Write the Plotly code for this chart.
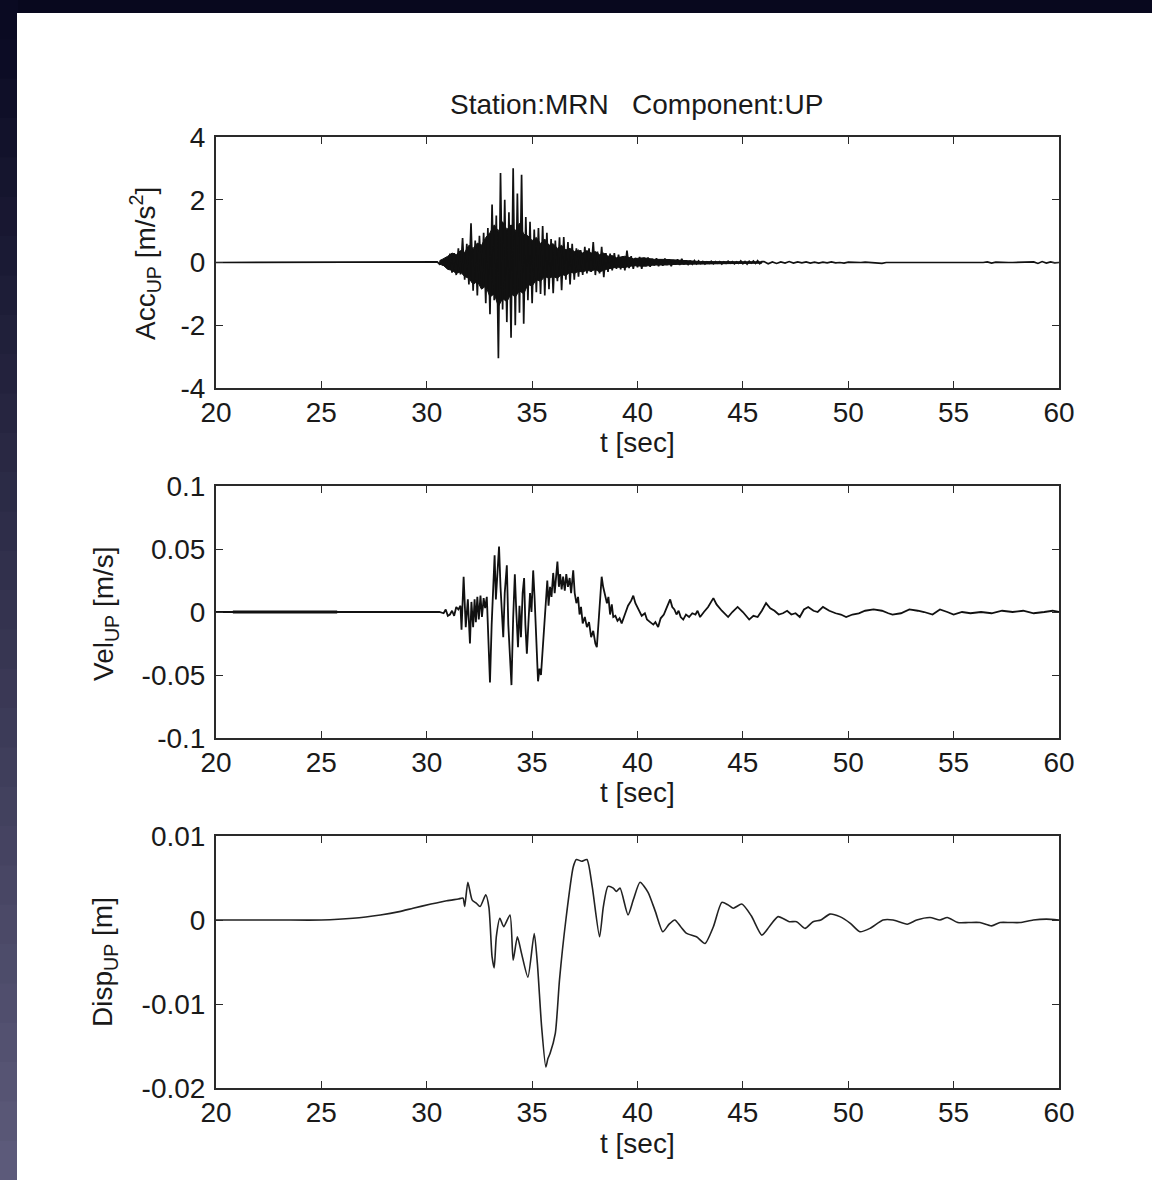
import numpy as np
import plotly.graph_objects as go
from plotly.subplots import make_subplots

# ---------------- DATA ----------------
TITLE = "Station:MRN   Component:UP"
x_ticks = [20, 25, 30, 35, 40, 45, 50, 55, 60]
acc_ticks = [-4, -2, 0, 2, 4]
vel_ticks = [-0.1, -0.05, 0, 0.05, 0.1]
vel_tick_labels = ["-0.1", "-0.05", "0", "0.05", "0.1"]
disp_ticks = [-0.02, -0.01, 0, 0.01]
disp_tick_labels = ["-0.02", "-0.01", "0", "0.01"]

# Acceleration: quiet before onset
acc_pre_t = [20.0, 30.4]
acc_pre = [0.0, 0.0]
# Acceleration, strong part, sampled every 0.1 s starting at 30.5 s
acc_main_t0 = 30.5
acc_main_dt = 0.1
acc_main = [
    0.02, -0.05, 0.08, -0.10, 0.12,
    -0.20, 0.28, -0.32, 0.30, -0.40, 0.45, -0.38, 0.78, -0.55, 0.60,
    -0.70, 1.25, -0.90, 0.70, -1.05, 0.85, -0.80, 0.95, -1.30, 1.10,
    -1.65, 1.85, -1.20, 1.50, -3.05, 2.85, -1.50, 2.00, -1.90, 1.60,
    -2.40, 3.00, -2.00, 2.20, -1.60, 2.80, -1.95, 1.45, -1.20, 1.30,
    -1.30, 1.05, -0.95, 1.10, -1.00, 1.16, -1.05, 0.95, -0.85, 0.75,
    -0.98, 0.70, -0.60, 0.80, -0.88, 0.81, -0.55, 0.65, -0.70, 0.60,
    -0.55, 0.45, -0.45, 0.40, -0.40, 0.50, -0.35, 0.45, -0.30, 0.65,
    -0.40, 0.35, -0.35, 0.50, -0.47, 0.30, -0.30, 0.28, -0.25, 0.30,
    -0.20, 0.25, -0.22, 0.20, -0.25, 0.38, -0.18, 0.20, -0.20, 0.15,
    -0.15, 0.18, -0.20, 0.15, -0.12, 0.16, -0.14, 0.12, -0.10, 0.14,
    -0.12, 0.10, -0.10, 0.13, -0.08, 0.10, -0.12, 0.08, -0.07, 0.10,
    -0.08, 0.12, -0.06, 0.07, -0.08, 0.06, -0.05, 0.06, -0.04, 0.05,
    -0.03, 0.03, -0.05, 0.02, -0.03, 0.04, -0.04, 0.03, -0.02, 0.03,
    -0.05, 0.02, -0.03, 0.04, -0.02, 0.03, -0.04, 0.02, -0.03, 0.05,
    -0.04, 0.03, -0.05, 0.04, -0.02, 0.05, -0.03, 0.06, -0.04, 0.03,
]
# Acceleration coda, sampled every 0.2 s starting at 46.0 s
acc_tail_t0 = 46.0
acc_tail_dt = 0.2
acc_tail = [
    0.03, -0.04, 0.02, -0.03, 0.02, -0.02, 0.03, -0.02, 0.02, -0.01,
    0.02, -0.02, 0.01, -0.02, 0.01, -0.01, 0.02, -0.01, 0.00, -0.02,
    0.01, 0.00, -0.01, 0.00, 0.01, 0.00, -0.01, 0.00, -0.03, 0.00,
    0.00, 0.01, 0.00, -0.01, 0.01, 0.00, -0.01, 0.01, -0.01, 0.00,
    -0.01, 0.00, 0.00, -0.01, 0.00, 0.00, 0.00, 0.00, 0.00, 0.00,
    0.00, 0.00, 0.00, 0.02, -0.02, 0.01, 0.00, 0.00, 0.00, 0.00,
    0.00, 0.00, 0.00, 0.00, 0.02, -0.03, 0.03, -0.02, 0.02, -0.01,
    0.00,
]
# Dense (solid black) core of the acceleration trace: upper / lower envelope
acc_core_t = [30.6, 30.8, 31.0, 31.2, 31.4, 31.6, 31.8, 32.0, 32.2, 32.4,
              32.6, 32.8, 33.0, 33.2, 33.4, 33.6, 33.8, 34.0, 34.2, 34.4,
              34.6, 34.8, 35.0, 35.2, 35.4, 35.6, 35.8, 36.0, 36.2, 36.4,
              36.6, 36.8, 37.0, 37.2, 37.4, 37.6, 37.8, 38.0, 38.2, 38.4,
              38.6, 38.8, 39.0, 39.4, 39.8, 40.3, 40.8, 41.3, 41.8, 42.3,
              43.0, 44.0, 45.0, 45.9]
acc_core_hi = [0.05, 0.12, 0.20, 0.30, 0.25, 0.38, 0.32, 0.55, 0.45, 0.62,
               0.55, 0.80, 0.95, 1.20, 1.00, 1.30, 1.05, 1.20, 1.00, 1.25,
               0.90, 0.85, 0.70, 0.80, 0.60, 0.75, 0.55, 0.60, 0.45, 0.55,
               0.40, 0.45, 0.35, 0.40, 0.30, 0.38, 0.30, 0.35, 0.25, 0.30,
               0.20, 0.22, 0.15, 0.20, 0.12, 0.15, 0.10, 0.10, 0.07, 0.06,
               0.03, 0.03, 0.03, 0.02]
acc_core_lo = [-0.05, -0.10, -0.22, -0.25, -0.35, -0.30, -0.45, -0.50, -0.70, -0.60,
               -0.85, -0.75, -1.10, -1.00, -1.40, -1.15, -1.25, -1.00, -1.10, -0.90,
               -1.00, -0.70, -0.75, -0.55, -0.60, -0.45, -0.50, -0.45, -0.50, -0.38,
               -0.42, -0.30, -0.35, -0.28, -0.30, -0.25, -0.28, -0.22, -0.30, -0.25,
               -0.20, -0.18, -0.15, -0.16, -0.10, -0.12, -0.08, -0.08, -0.06, -0.05,
               -0.03, -0.03, -0.03, -0.02]

# Velocity (t [s], v [m/s])
vel_t = [
    20.0, 30.6, 30.8, 30.9, 31.0, 31.1, 31.2, 31.3, 31.4, 31.5, 31.6, 31.65,
    31.75, 31.85, 31.95, 32.05, 32.12, 32.2, 32.27, 32.33, 32.4, 32.47, 32.55,
    32.62, 32.7, 32.77, 32.85, 32.92, 33.0, 33.08, 33.15, 33.22, 33.28, 33.35,
    33.43, 33.5, 33.57, 33.63, 33.7, 33.8, 33.87, 33.94, 34.02, 34.1, 34.18,
    34.25, 34.33, 34.4, 34.47, 34.55, 34.62, 34.68, 34.75, 34.82, 34.9, 34.97,
    35.05, 35.12, 35.2, 35.28, 35.35, 35.42, 35.5, 35.57, 35.65, 35.72, 35.78,
    35.85, 35.92, 36.0, 36.07, 36.13, 36.2, 36.27, 36.33, 36.4, 36.47, 36.55,
    36.62, 36.7, 36.78, 36.85, 36.95, 37.02, 37.1, 37.18, 37.25, 37.32, 37.4,
    37.5, 37.6, 37.7, 37.8, 37.9, 38.0, 38.07, 38.15, 38.22, 38.3, 38.37,
    38.45, 38.55, 38.62, 38.7, 38.78, 38.85, 38.95, 39.05, 39.15, 39.25, 39.4,
    39.55, 39.7, 39.8, 39.9, 40.05, 40.2, 40.35, 40.45, 40.6, 40.75, 40.85,
    40.98, 41.1, 41.25, 41.4, 41.55, 41.65, 41.75, 41.85, 41.95, 42.05, 42.17,
    42.3, 42.45, 42.6, 42.75, 42.85, 42.97, 43.15, 43.35, 43.6, 43.75, 44.0,
    44.3, 44.5, 44.75, 45.0, 45.3, 45.5, 45.7, 45.9, 46.1, 46.3, 46.5, 46.7,
    46.9, 47.1, 47.3, 47.5, 47.7, 47.9, 48.1, 48.35, 48.55, 48.8, 49.1, 49.4,
    49.65, 49.9, 50.2, 50.5, 50.8, 51.2, 51.6, 51.9, 52.1, 52.5, 52.9, 53.3,
    53.6, 54.0, 54.35, 54.7, 55.0, 55.4, 55.8, 56.3, 56.8, 57.3, 57.8, 58.3,
    58.8, 59.3, 59.7, 60.0,
]
vel_v = [
    0.0, 0.0, -0.001, 0.002, -0.003, -0.002, 0.001, -0.003, 0.004, 0.002, 0.005, -0.014,
    0.028, -0.012, 0.010, -0.025, 0.008, -0.012, 0.010, -0.008, 0.012, -0.006, 0.013,
    -0.004, 0.011, 0.003, 0.012, -0.020, -0.056, -0.010, 0.020, 0.045, 0.010, 0.030,
    0.052, 0.020, 0.000, -0.020, 0.015, 0.037, -0.010, -0.030, -0.058, -0.005, 0.030,
    0.000, -0.028, 0.005, -0.020, 0.015, 0.027, -0.010, -0.033, -0.010, 0.015, 0.000,
    0.033, 0.010, -0.030, -0.055, -0.045, -0.050, -0.030, -0.010, 0.010, 0.025, 0.005,
    0.020, 0.012, 0.031, 0.015, 0.025, 0.040, 0.020, 0.030, 0.018, 0.028, 0.017,
    0.030, 0.020, 0.027, 0.015, 0.033, 0.015, 0.007, 0.012, -0.002, 0.004, -0.009,
    -0.004, -0.012, -0.008, -0.020, -0.015, -0.025, -0.028, -0.010, 0.010, 0.028, 0.020,
    0.015, 0.007, 0.012, -0.002, 0.006, -0.004, -0.003, -0.007, -0.005, -0.009, -0.002,
    0.005, 0.009, 0.013, 0.007, 0.002, -0.003, -0.001, -0.006, -0.008, -0.010, -0.008,
    -0.012, -0.005, -0.002, 0.004, 0.010, 0.004, 0.002, -0.002, 0.001, -0.004, -0.006,
    -0.002, -0.004, -0.001, -0.002, 0.001, -0.004, 0.000, 0.004, 0.011, 0.006, 0.001,
    -0.004, 0.000, 0.004, 0.000, -0.006, -0.003, -0.004, 0.001, 0.007, 0.003, 0.001, -0.002,
    -0.001, 0.001, -0.002, -0.001, -0.004, 0.002, 0.004, 0.001, 0.000, 0.004, 0.001, -0.001,
    -0.002, -0.004, -0.002, -0.001, 0.001, 0.002, 0.001, -0.001, -0.002, -0.001, 0.002, 0.001,
    0.000, -0.002, 0.002, 0.000, -0.002, 0.000, -0.001, 0.000, -0.001, 0.001, 0.000, 0.001,
    -0.001, 0.000, 0.001, 0.000,
]
# short stretch drawn heavier in the original (pre-event record)
vel_heavy_t = [20.8, 25.75]
vel_heavy_v = [0.0, 0.0]

# Displacement (t [s], d [m])
disp_t = [
    20.0, 23.0, 25.0, 26.5, 27.8, 28.7, 29.35, 30.2, 30.95, 31.5, 31.72, 31.8,
    31.95, 32.15, 32.35, 32.53, 32.8, 32.95, 33.1, 33.2, 33.3, 33.47, 33.65,
    33.95, 34.1, 34.3, 34.5, 34.8, 35.1, 35.25, 35.45, 35.65, 35.75, 35.85,
    36.1, 36.3, 36.6, 36.95, 37.1, 37.35, 37.6, 37.85, 38.2, 38.38, 38.6,
    38.85, 39.0, 39.17, 39.55, 39.8, 40.12, 40.5, 40.85, 41.2, 41.5, 41.77,
    42.05, 42.33, 42.8, 43.2, 43.6, 44.0, 44.3, 44.55, 44.95, 45.4, 45.9,
    46.25, 46.67, 47.2, 47.55, 47.95, 48.33, 48.7, 49.13, 49.6, 50.1, 50.55,
    51.03, 51.65, 52.13, 52.8, 53.25, 53.88, 54.35, 54.7, 55.2, 55.7, 56.25,
    56.8, 57.2, 57.7, 58.15, 58.78, 59.4, 60.0,
]
disp_v = [
    0.0, 0.0, 0.0, 0.0002, 0.0006, 0.0010, 0.0014, 0.0019, 0.0023, 0.0025, 0.0026, 0.0016,
    0.0045, 0.0024, 0.0020, 0.0016, 0.0030, 0.0015, -0.0044, -0.0057, -0.0020, 0.0002, -0.0008,
    0.0006, -0.0048, -0.0020, -0.0040, -0.0068, -0.0016, -0.0052, -0.0127, -0.0175, -0.0165, -0.0159,
    -0.0135, -0.0071, 0.0000, 0.0063, 0.0072, 0.0070, 0.0072, 0.0040, -0.0020, 0.0016, 0.0040,
    0.0038, 0.0034, 0.0038, 0.0006, 0.0024, 0.0045, 0.0033, 0.0010, -0.0014, -0.0005, 0.0000,
    -0.0008, -0.0016, -0.0020, -0.0028, -0.0008, 0.0021, 0.0018, 0.0014, 0.0019, 0.0005, -0.0018,
    -0.0008, 0.0004, -0.0002, -0.0002, -0.0010, -0.0002, 0.0000, 0.0007, 0.0004, -0.0004, -0.0014,
    -0.0010, 0.0000, 0.0000, -0.0005, 0.0000, 0.0003, 0.0000, 0.0003, -0.0003, -0.0003, -0.0003,
    -0.0007, -0.0003, -0.0003, -0.0003, 0.0000, 0.0001, 0.0000,
]

assert len(acc_core_t) == len(acc_core_hi) == len(acc_core_lo)
assert len(vel_t) == len(vel_v) and len(disp_t) == len(disp_v)

# ---------------- FIGURE ----------------
acc_t = (acc_pre_t
         + [round(acc_main_t0 + i * acc_main_dt, 2) for i in range(len(acc_main))]
         + [round(acc_tail_t0 + i * acc_tail_dt, 2) for i in range(len(acc_tail))])
acc_v = acc_pre + acc_main + acc_tail

W, H = 1152, 1180
L, R, T, B = 216, 1059, 137, 1088          # plot-area pixel box
panels_px = [(137, 388), (486, 738), (836, 1088)]


def px2x(px):
    return (px - L) / (R - L)


def py2y(py):
    return (B - py) / (B - T)


fig = make_subplots(rows=3, cols=1, shared_xaxes=False)
INK = "#111111"
fig.add_trace(go.Scatter(x=acc_core_t + acc_core_t[::-1], y=acc_core_hi + acc_core_lo[::-1],
                         mode="lines", fill="toself", fillcolor=INK,
                         line=dict(color=INK, width=1)), row=1, col=1)
fig.add_trace(go.Scatter(x=acc_t, y=acc_v, mode="lines", line=dict(color=INK, width=1.7)),
              row=1, col=1)
fig.add_trace(go.Scatter(x=vel_t, y=vel_v, mode="lines", line=dict(color=INK, width=1.8)),
              row=2, col=1)
fig.add_trace(go.Scatter(x=vel_heavy_t, y=vel_heavy_v, mode="lines",
                         line=dict(color=INK, width=2.8)), row=2, col=1)
fig.add_trace(go.Scatter(x=disp_t, y=disp_v, mode="lines",
                         line=dict(color="#222222", width=1.6, shape="spline", smoothing=0.6)),
              row=3, col=1)

FONT = "Liberation Sans, Arial, Helvetica, sans-serif"
FS = 28
TXT = "#1a1a1a"
axis_common = dict(showline=True, linecolor="#2a2a2a", linewidth=2, mirror="ticks",
                   ticks="inside", ticklen=7, tickwidth=1.3, tickcolor="#2a2a2a",
                   showgrid=False, zeroline=False,
                   tickfont=dict(family=FONT, size=FS, color=TXT))

for i, (top, bot) in enumerate(panels_px, start=1):
    fig.update_xaxes(range=[20, 60], tickvals=x_ticks, ticktext=[str(v) for v in x_ticks],
                     domain=[0, 1], ticklabelstandoff=-2, row=i, col=1, **axis_common)
    fig.update_yaxes(domain=[py2y(bot), py2y(top)], ticklabelstandoff=3, row=i, col=1,
                     **axis_common)

fig.update_yaxes(range=[-4, 4], tickvals=acc_ticks, ticktext=[str(v) for v in acc_ticks], row=1, col=1)
fig.update_yaxes(range=[-0.1, 0.1], tickvals=vel_ticks, ticktext=vel_tick_labels, row=2, col=1)
fig.update_yaxes(range=[-0.02, 0.01], tickvals=disp_ticks, ticktext=disp_tick_labels, row=3, col=1)

# background: dark frame with white page
shapes = []
n_bands = 30
for k in range(n_bands):
    f = k / (n_bands - 1)
    r = int(10 + f * (92 - 10))
    g = int(10 + f * (90 - 10))
    b = int(34 + f * (122 - 34))
    y0 = k * H / n_bands
    y1 = (k + 1) * H / n_bands + 1
    shapes.append(dict(type="rect", xref="paper", yref="paper", layer="below",
                       x0=px2x(0), x1=px2x(18), y0=py2y(y1), y1=py2y(y0),
                       line=dict(width=0), fillcolor=f"rgb({r},{g},{b})"))
shapes.append(dict(type="rect", xref="paper", yref="paper", layer="below",
                   x0=px2x(17), x1=px2x(W + 2), y0=py2y(H + 2), y1=py2y(13),
                   line=dict(width=0), fillcolor="white"))

annotations = [
    dict(text=TITLE, x=px2x(637), y=py2y(104), xref="paper", yref="paper",
         showarrow=False, font=dict(family=FONT, size=FS, color=TXT),
         xanchor="center", yanchor="middle"),
]
ylabels = [("Acc<sub>UP</sub> [m/s<sup>2</sup>]", 145, 264),
           ("Vel<sub>UP</sub> [m/s]", 105, 614),
           ("Disp<sub>UP</sub> [m]", 105, 962)]
for txt, xp, yp in ylabels:
    annotations.append(dict(text=txt, x=px2x(xp), y=py2y(yp), xref="paper", yref="paper",
                            showarrow=False, textangle=-90,
                            font=dict(family=FONT, size=FS, color=TXT),
                            xanchor="center", yanchor="middle"))
for yp in (442, 793, 1143):
    annotations.append(dict(text="t [sec]", x=px2x(637), y=py2y(yp), xref="paper", yref="paper",
                            showarrow=False, font=dict(family=FONT, size=FS, color=TXT),
                            xanchor="center", yanchor="middle"))

fig.update_layout(
    width=W, height=H,
    margin=dict(l=L, r=W - R, t=T, b=H - B, pad=0),
    paper_bgcolor="rgb(8,8,30)", plot_bgcolor="white",
    showlegend=False, shapes=shapes, annotations=annotations,
    font=dict(family=FONT, size=FS, color=TXT),
)

fig.write_html(
    "out.html",
    config={"displayModeBar": False},
    post_script="document.body.style.margin='0';document.body.style.background='rgb(8,8,30)';",
)
